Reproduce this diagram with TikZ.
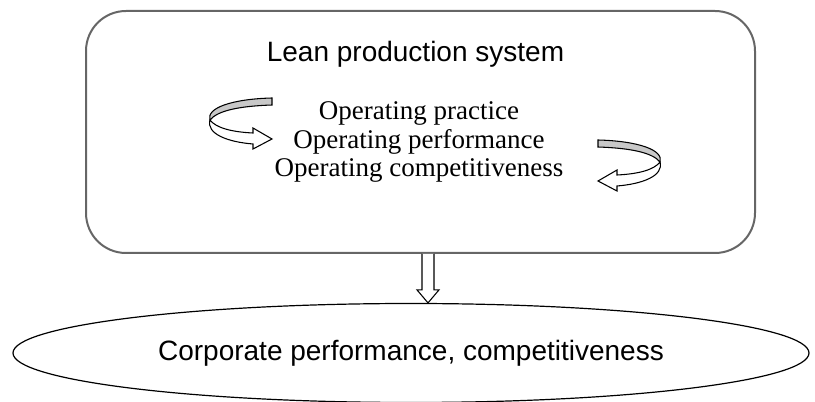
\documentclass[tikz,border=0pt]{standalone}
\usepackage{fontspec}
\setmainfont{Liberation Serif}
\newfontfamily\arialfont{Liberation Sans}
\usetikzlibrary{positioning,shapes.geometric,calc}
\definecolor{ribbon}{HTML}{C8C8C8}
\definecolor{frame}{HTML}{666666}
\tikzset{
  sanslabel/.style={font=\arialfont\fontsize{21}{25}\selectfont},
  seriflabel/.style={font=\fontsize{20.25}{24}\selectfont},
  hollowarrow/.style={draw=black,fill=white,line width=0.8pt},
  % ribbon arrow that turns back on itself
  turnarrow/.pic={
    \filldraw[fill=ribbon,draw=black,line width=0.8pt] (32,-24) -- (32,-17) .. controls (2,-16) and (-22,-12) .. (-30,-2) .. controls (-34,-14) and (-8,-23) .. (32,-24) -- cycle;
    \filldraw[fill=white,draw=black,line width=0.8pt] (-30,-2) .. controls (-34,12) and (-12,20) .. (13,22) -- (13,27) -- (32,17) -- (13,6) -- (13,11) .. controls (-8,10) and (-24,6) .. (-30,-2) -- cycle;
  }
}
\begin{document}
\begin{tikzpicture}[x=0.75pt,y=-0.75pt]
  \useasboundingbox (0,0) rectangle (815,402);
  % system box
  \node[draw=frame,line width=1.5pt,rounded corners=30pt,minimum width=501.75pt,minimum height=181.5pt] (lean) at (420.5,132) {};
  \node[sanslabel,anchor=base] (leanttl) at (415.5,62) {Lean production system};
  \foreach \i/\txt in {0/Operating practice,1/Operating performance,2/Operating competitiveness}{
    \node[seriflabel,anchor=base] (op\i) at (419,{120+28.5*\i}) {\txt};
  }
  \pic at (240,122) {turnarrow};
  \pic[xscale=-1] at (630,164) {turnarrow};
  % outcome
  \node[draw=black,line width=0.9pt,ellipse,inner sep=0pt,minimum width=597pt,minimum height=74.25pt,sanslabel] (corp) at (411,353) {Corporate performance, competitiveness};
  \coordinate (ax) at (428,0);
  \draw[hollowarrow] ($(lean.south -| ax)+(-6,0)$) -- ($(corp.north -| ax)+(-6,-13)$) -- ($(corp.north -| ax)+(-11,-13)$) -- (corp.north -| ax) -- ($(corp.north -| ax)+(11,-13)$) -- ($(corp.north -| ax)+(6,-13)$) -- ($(lean.south -| ax)+(6,0)$);
\end{tikzpicture}
\end{document}
